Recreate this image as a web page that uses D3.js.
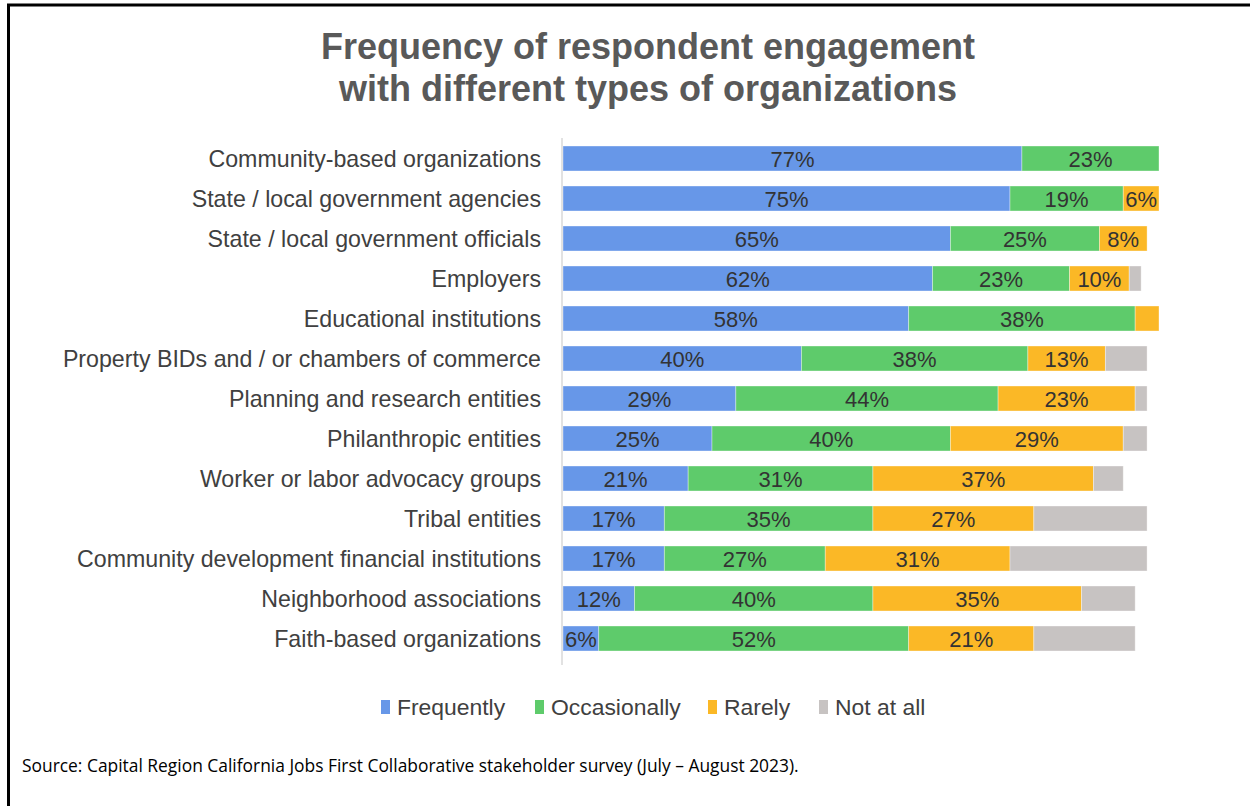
<!DOCTYPE html>
<html>
<head>
<meta charset="utf-8">
<script src="https://cdn.jsdelivr.net/npm/d3@7"></script>
<style>
  html, body { margin: 0; padding: 0; background: #fff; }
  svg { display: block; }
</style>
</head>
<body>
<svg id="chart" width="1250" height="806"></svg>
<script>
// Organization types, top to bottom
const categories = [
  "Community-based organizations",
  "State / local government agencies",
  "State / local government officials",
  "Employers",
  "Educational institutions",
  "Property BIDs and / or chambers of commerce",
  "Planning and research entities",
  "Philanthropic entities",
  "Worker or labor advocacy groups",
  "Tribal entities",
  "Community development financial institutions",
  "Neighborhood associations",
  "Faith-based organizations"
];

// Share of respondents (%) per engagement level
const frequently   = [77, 75, 65, 62, 58, 40, 29, 25, 21, 17, 17, 12, 6];
const occasionally = [23, 19, 25, 23, 38, 38, 44, 40, 31, 35, 27, 40, 52];
const rarely       = [0, 6, 8, 10, 4, 13, 23, 29, 37, 27, 31, 35, 21];
const notAtAll     = [0, 0, 0, 2, 0, 7, 2, 4, 5, 19, 23, 9, 17];

const seriesNames  = ["Frequently", "Occasionally", "Rarely", "Not at all"];
const seriesColors = ["#6797e8", "#5ecb6b", "#fbb826", "#c7c3c2"];
// Segments whose value labels are printed inside the bar
const showLabels   = [true, true, true, false];

const titleLines = [
  "Frequency of respondent engagement",
  "with different types of organizations"
];
const sourceNote = "Source: Capital Region California Jobs First Collaborative stakeholder survey (July \u2013 August 2023).";

const svg = d3.select("#chart");
const W = 1250, H = 806;

// Frame: top and left rules
svg.append("line").attr("x1", 7).attr("x2", W).attr("y1", 5).attr("y2", 5)
  .attr("stroke", "#000").attr("stroke-width", 3);
svg.append("line").attr("x1", 8.5).attr("x2", 8.5).attr("y1", 4).attr("y2", H)
  .attr("stroke", "#000").attr("stroke-width", 3);

// Title
svg.append("g").selectAll("text").data(titleLines).join("text")
  .attr("x", 648)
  .attr("y", (d, i) => 59 + i * 42)
  .attr("text-anchor", "middle")
  .attr("font-family", "'Liberation Sans', Arial, sans-serif")
  .attr("font-weight", "bold")
  .attr("font-size", 36)
  .attr("fill", "#595959")
  .text(d => d);

// Scales
const x = d3.scaleLinear().domain([0, 100]).range([563, 1159]);
const y = d3.scaleBand().domain(categories).range([138.5, 658.5])
  .paddingInner(0.375).paddingOuter(0.1875);

// Stack the series
const rows = categories.map((c, i) => ({
  category: c,
  Frequently: frequently[i],
  Occasionally: occasionally[i],
  Rarely: rarely[i],
  "Not at all": notAtAll[i]
}));
const stacked = d3.stack().keys(seriesNames)(rows);

const layers = svg.append("g").selectAll("g").data(stacked).join("g")
  .attr("fill", (d, i) => seriesColors[i]);

layers.selectAll("rect").data(d => d).join("rect")
  .attr("x", d => x(d[0]))
  .attr("y", d => y(d.data.category))
  .attr("width", d => Math.max(0, x(d[1]) - x(d[0])))
  .attr("height", y.bandwidth())
  .attr("stroke", "#ffffff")
  .attr("stroke-opacity", 0.45)
  .attr("stroke-width", 0.8);

// Value labels inside segments
layers.each(function(layer, li) {
  if (!showLabels[li]) return;
  d3.select(this).selectAll("text")
    .data(layer.filter(d => (d[1] - d[0]) >= 5))
    .join("text")
    .attr("x", d => (x(d[0]) + x(d[1])) / 2)
    .attr("y", d => y(d.data.category) + y.bandwidth() / 2 + 8)
    .attr("text-anchor", "middle")
    .attr("font-family", "'Liberation Sans', Arial, sans-serif")
    .attr("font-size", 22)
    .attr("fill", "#333333")
    .text(d => `${d[1] - d[0]}%`);
});

// Category axis line
svg.append("line")
  .attr("x1", 562).attr("x2", 562)
  .attr("y1", 138).attr("y2", 665)
  .attr("stroke", "#d9d9d9").attr("stroke-width", 1.5);

// Category labels
svg.append("g").selectAll("text").data(categories).join("text")
  .attr("x", 541)
  .attr("y", d => y(d) + y.bandwidth() / 2 + 8)
  .attr("text-anchor", "end")
  .attr("font-family", "'Liberation Sans', Arial, sans-serif")
  .attr("font-size", 23.2)
  .attr("fill", "#404040")
  .text(d => d);

// Legend
const legendTextX = [397, 551, 724, 835];
const legend = svg.append("g").selectAll("g").data(seriesNames).join("g")
  .attr("transform", (d, i) => `translate(${legendTextX[i]},0)`);
legend.append("rect")
  .attr("x", -16).attr("y", 700).attr("width", 9).attr("height", 14)
  .attr("fill", (d, i) => seriesColors[i]);
legend.append("text")
  .attr("x", 0).attr("y", 715)
  .attr("font-family", "'Liberation Sans', Arial, sans-serif")
  .attr("font-size", 22.9)
  .attr("fill", "#404040")
  .text(d => d);

// Source note
svg.append("text")
  .attr("x", 22).attr("y", 772)
  .attr("font-family", "'Open Sans', 'Noto Sans', sans-serif")
  .attr("font-size", 17.4)
  .attr("fill", "#000")
  .text(sourceNote);
</script>
</body>
</html>
